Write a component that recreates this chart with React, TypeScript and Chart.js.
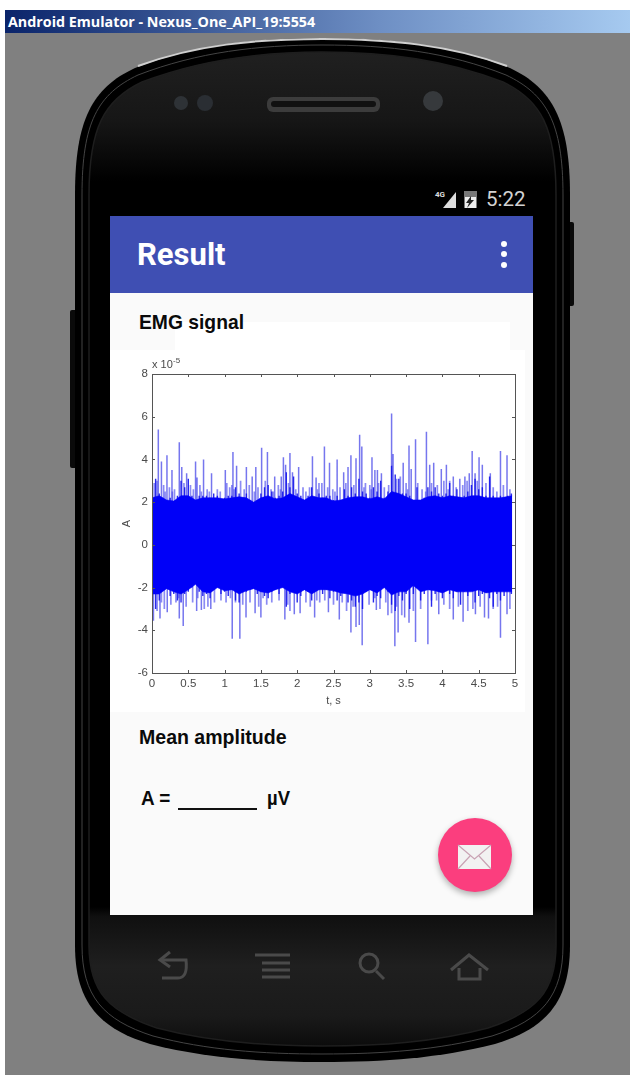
import React, { useEffect, useRef } from "react";
import { Chart, registerables } from "chart.js";

Chart.register(...registerables);

const xTicks = [0, 0.5, 1, 1.5, 2, 2.5, 3, 3.5, 4, 4.5, 5];
const yTicks = [-6, -4, -2, 0, 2, 4, 6, 8];

const bodyTimes = [0,.1,.2,.3,.4,.5,.6,.7,.8,.9,1,1.1,1.2,1.3,1.4,1.5,1.6,1.7,1.8,1.9,2,2.1,2.2,2.3,2.4,2.5,2.6,2.7,2.8,2.9,3,3.1,3.2,3.3,3.4,3.5,3.6,3.7,3.8,3.9,4,4.1,4.2,4.3,4.4,4.5,4.6,4.7,4.8,4.96];
const bodyUpper = [2.2,2.3,2.1,2.05,2.3,2.3,2.1,2.2,2.2,2.2,2.15,2.2,2.25,2.2,2,2.2,2.3,2.15,2.2,2.4,2.25,2.1,2.3,2.2,2.2,2.05,2.1,2.2,2.25,2.25,2.15,2.25,2.15,2.5,2.4,2.25,2.1,2.1,2.25,2.3,2.2,2.3,2.25,2.2,2.3,2.3,2.2,2.2,2.2,2.3];
const bodyLower = [-2.3,-2.3,-2.05,-2.2,-2.3,-2.1,-1.85,-2.2,-2.25,-2,-2.15,-2.1,-2.3,-2.15,-2.05,-2.2,-2.25,-2.1,-2,-2.2,-2.3,-2.1,-2.3,-2.1,-2.1,-2.15,-2.25,-2.3,-2.4,-2.3,-2.1,-2.25,-2,-2.35,-2.2,-2.2,-1.9,-2.2,-2.1,-2.15,-2.25,-2.1,-2.2,-2.2,-2.2,-2.1,-2.25,-2.2,-2.2,-2.2];

const denseTimes = [0,.05,.1,.15,.2,.25,.3,.35,.4,.45,.5,.55,.6,.65,.7,.75,.8,.85,.9,.95,1,1.05,1.1,1.15,1.2,1.25,1.3,1.35,1.4,1.45,1.5,1.55,1.6,1.65,1.7,1.75,1.8,1.85,1.9,1.95,2,2.05,2.1,2.15,2.2,2.25,2.3,2.35,2.4,2.45,2.5,2.55,2.6,2.65,2.7,2.75,2.8,2.85,2.9,2.95,3,3.05,3.1,3.15,3.2,3.25,3.3,3.35,3.4,3.45,3.5,3.55,3.6,3.65,3.7,3.75,3.8,3.85,3.9,3.95,4,4.05,4.1,4.15,4.2,4.25,4.3,4.35,4.4,4.45,4.5,4.55,4.6,4.65,4.7,4.75,4.8,4.85,4.9,4.95];
const denseUpper = [2.2,3.1,2.4,2.2,2.1,2.2,2,2.3,3,2.7,3.1,2.3,2.1,2.3,2.3,2.3,2.2,2.4,2.3,2.1,2.2,2.3,2.3,2.7,2.4,2.2,2.4,2.1,2,2.1,2.4,2.7,2.8,2.5,2.2,2.3,2.5,3.4,2.7,3.2,2.4,2.3,2.1,2.3,2.7,2.2,2.4,2.2,2.3,2.3,2.1,2.3,2.1,2.6,2.3,2.7,2.4,3.1,2.5,2.4,2.2,2.7,2.5,3,2.2,2.5,3.7,3.3,3.1,2.4,2.4,2.3,2.1,2.7,2.1,2.2,2.7,2.5,2.7,2.4,2.3,2.4,2.9,2.3,2.6,2.2,2.3,2.5,2.8,3.1,2.6,2.7,2.3,3.2,2.3,2,2.3,2.2,2.3,2.4];
const denseLower = [-2.4,-3,-2.6,-2.1,-2,-2.4,-2.3,-2.6,-2.7,-2.3,-2.2,-2,-1.8,-2.2,-2.4,-2.3,-2.5,-2.1,-2,-2.3,-2.2,-2.4,-2.1,-2.6,-2.7,-2.1,-2.2,-2.1,-2,-2.3,-2.2,-2.4,-2.5,-2.2,-2.1,-2.3,-2,-2.9,-2.3,-2,-2.7,-2.4,-2.1,-2.2,-2.6,-2.1,-2.1,-2.3,-2.1,-2.5,-2.2,-2.6,-2.4,-2.2,-2.7,-2.6,-2.9,-2.7,-3,-2.2,-2.1,-2.7,-2.4,-2.5,-2,-2.2,-2.8,-3.1,-2.4,-2.6,-2.3,-3,-2.3,-1.7,-2.6,-2.3,-2.1,-2.9,-2.3,-2.2,-2.5,-2.1,-2.3,-2.5,-2.2,-2.8,-2.2,-2.4,-2.1,-2.7,-2.4,-2.3,-2.1,-2.5,-2.9,-2.3,-2.6,-2.4,-2.1,-2.3];

const peakUpTimes = [.087,.13,.206,.275,.376,.41,.477,.6,.62,.71,.82,1.01,1.115,1.165,1.3,1.38,1.43,1.51,1.59,1.69,1.78,1.81,1.84,1.9,1.935,2.02,2.21,2.26,2.375,2.445,2.55,2.64,2.7,2.74,2.81,2.86,2.89,3.03,3.07,3.105,3.16,3.3,3.32,3.46,3.54,3.57,3.63,3.78,3.825,3.88,3.985,4.055,4.15,4.24,4.31,4.37,4.41,4.45,4.505,4.55,4.66,4.8,4.89];
const peakUpValues = [5.4,3.9,4.2,3.5,4.8,3.65,3.35,3.9,3.15,4,3.35,3.5,4.35,3.7,3.65,3.2,3.65,4.55,4.35,3.2,3.2,4.1,3.75,4.3,3.4,3.65,4.15,3.15,4.6,3.85,4,3.4,3.65,4.2,4.05,5.15,4.6,4.1,3.5,3.5,3.35,6.15,4.25,3.85,4.65,3.55,4.95,5.3,3.75,3.85,3.55,3.75,3.2,3.1,3.2,3.35,4.4,3.35,4.1,3.75,3.35,4.4,4.2];
const peakDownTimes = [.02,.11,.21,.376,.43,.615,.68,.81,1.105,1.21,1.295,1.42,1.5,1.83,1.96,2.04,2.24,2.43,2.58,2.74,2.81,2.855,2.895,3.09,3.25,3.345,3.39,3.48,3.54,3.63,3.8,3.95,4.15,4.285,4.455,4.58,4.635,4.8,4.89];
const peakDownValues = [-3.55,-3.45,-3.15,-3.45,-3.8,-3.1,-3.05,-3,-4.4,-4.4,-3.4,-3.2,-3.4,-3.5,-3.25,-3.2,-3.4,-3.15,-3.5,-4.1,-3.85,-3.75,-4.7,-3.05,-3.3,-4.75,-4.1,-3.4,-3.65,-4.55,-4.65,-3.25,-3.5,-3.6,-3.25,-3.4,-3.45,-4.35,-3.25];

const fuzzUpTimes = [.03,.07,.16,.18,.24,.28,.31,.44,.53,.57,.66,.68,.76,.79,.9,.94,1.03,1.07,1.1,1.13,1.22,1.27,1.34,1.41,1.46,1.56,1.64,1.67,1.74,1.77,1.88,1.98,2.08,2.12,2.17,2.28,2.3,2.34,2.42,2.49,2.52,2.59,2.67,2.78,2.92,2.94,3,3.02,3.12,3.2,3.26,3.37,3.42,3.5,3.52,3.66,3.72,3.77,3.85,3.93,4.02,4.08,4.1,4.19,4.28,4.34,4.48,4.6,4.7,4.75,4.84,4.93];
const fuzzUpValues = [2.9,3,2.8,2.5,2.7,2.5,2.6,2.9,2.8,2.6,2.8,2.5,2.6,2.5,2.6,2.5,2.9,2.7,2.8,2.6,3,2.6,2.8,2.5,2.7,3,2.6,2.5,2.8,2.6,2.9,2.6,2.7,2.5,2.7,2.6,2.9,2.9,2.7,2.6,2.5,2.7,2.9,2.8,2.7,2.9,2.8,2.6,2.9,2.7,2.8,3.1,3.2,2.9,2.6,2.9,2.6,2.5,2.9,2.8,3,2.6,3,2.7,2.8,3,3,2.9,2.7,2.5,2.8,2.6];
const fuzzDownTimes = [.07,.13,.17,.26,.33,.37,.47,.56,.63,.72,.77,.86,.95,1.02,1.08,1.15,1.25,1.35,1.47,1.53,1.58,1.65,1.75,1.87,1.9,2.12,2.18,2.27,2.31,2.38,2.5,2.62,2.68,2.77,2.99,3.07,3.14,3.22,3.3,3.37,3.44,3.6,3.7,3.85,3.92,4.02,4.1,4.22,4.35,4.42,4.52,4.7,4.76,4.93];
const fuzzDownValues = [-3.1,-2.7,-3,-2.8,-2.7,-2.5,-2.9,-2.7,-2.5,-3,-2.9,-2.7,-2.6,-2.7,-2.5,-2.7,-2.8,-2.7,-2.9,-2.5,-2.8,-2.7,-2.6,-2.8,-3.1,-2.7,-2.9,-2.6,-2.7,-2.6,-2.8,-2.7,-3.1,-2.9,-2.8,-2.5,-3,-2.7,-3.2,-2.9,-3.3,-3.1,-3,-2.6,-2.6,-2.8,-3,-2.9,-3.1,-3,-2.9,-3,-2.9,-3];

const coreColor = "#0000f8";
const denseColor = "rgba(18,18,235,0.9)";
const peakColor = "rgba(72,72,232,0.75)";
const fuzzColor = "rgba(100,100,240,0.75)";
const inkColor = "#4a4a4a";

const spikes = (times: number[], values: number[]) =>
  times.flatMap((t, i) => [{ x: t, y: 0 }, { x: t, y: values[i] }, { x: t, y: 0 }]);

const matlabFrame = {
  id: "matlabFrame",
  afterDraw(chart: any) {
    const { ctx, chartArea: a, scales } = chart;
    ctx.save();
    ctx.strokeStyle = "#555";
    ctx.lineWidth = 1;
    ctx.strokeRect(Math.round(a.left) + 0.5, Math.round(a.top) + 0.5, a.width, a.height);
    ctx.beginPath();
    scales.x.ticks.forEach((t: any) => {
      const p = Math.round(scales.x.getPixelForValue(t.value)) + 0.5;
      ctx.moveTo(p, a.top); ctx.lineTo(p, a.top + 3);
      ctx.moveTo(p, a.bottom); ctx.lineTo(p, a.bottom - 3);
    });
    scales.y.ticks.forEach((t: any) => {
      const p = Math.round(scales.y.getPixelForValue(t.value)) + 0.5;
      ctx.moveTo(a.left, p); ctx.lineTo(a.left + 3, p);
      ctx.moveTo(a.right, p); ctx.lineTo(a.right - 3, p);
    });
    ctx.stroke();
    ctx.fillStyle = inkColor;
    ctx.textBaseline = "alphabetic";
    ctx.font = "11px 'Liberation Sans'";
    ctx.fillText("x 10", a.left, a.top - 6);
    ctx.font = "8px 'Liberation Sans'";
    ctx.fillText("-5", a.left + 21, a.top - 11);
    ctx.restore();
  },
};

function EmgChart() {
  const ref = useRef<HTMLCanvasElement | null>(null);
  useEffect(() => {
    const chart = new Chart(ref.current!, {
      type: "line",
      data: {
        datasets: [
          {
            label: "body upper",
            data: bodyTimes.map((t, i) => ({ x: t, y: bodyUpper[i] })),
            borderColor: coreColor, borderWidth: 0.6, backgroundColor: coreColor, fill: "+1",
          },
          {
            label: "body lower",
            data: bodyTimes.map((t, i) => ({ x: t, y: bodyLower[i] })),
            borderColor: coreColor, borderWidth: 0.6,
          },
          { label: "dense up", data: spikes(denseTimes, denseUpper), borderColor: denseColor, borderWidth: 1.4 },
          { label: "dense down", data: spikes(denseTimes, denseLower), borderColor: denseColor, borderWidth: 1.4 },
          { label: "peaks up", data: spikes(peakUpTimes, peakUpValues), borderColor: peakColor, borderWidth: 1.5 },
          { label: "peaks down", data: spikes(peakDownTimes, peakDownValues), borderColor: peakColor, borderWidth: 1.5 },
          { label: "fuzz up", data: spikes(fuzzUpTimes, fuzzUpValues), borderColor: fuzzColor, borderWidth: 1.7 },
          { label: "fuzz down", data: spikes(fuzzDownTimes, fuzzDownValues), borderColor: fuzzColor, borderWidth: 1.7 },
        ],
      } as any,
      options: {
        animation: false,
        responsive: false,
        devicePixelRatio: 1,
        parsing: false as any,
        elements: { point: { radius: 0 }, line: { tension: 0 } },
        layout: { padding: { top: 24, right: 10, left: 0, bottom: 0 } },
        plugins: { legend: { display: false }, tooltip: { enabled: false } },
        scales: {
          x: {
            type: "linear", min: 0, max: 5,
            afterBuildTicks: (s: any) => { s.ticks = xTicks.map((value) => ({ value })); },
            afterFit: (s: any) => { s.height = 39; },
            grid: { display: false }, border: { display: false },
            ticks: { color: inkColor, padding: -4, maxRotation: 0, autoSkip: false, font: { family: "Liberation Sans", size: 11.5 }, callback: (v: any) => String(v) },
            title: { display: true, text: "t, s", color: inkColor, font: { family: "Liberation Sans", size: 11 }, padding: { top: 0, bottom: 4 } },
          },
          y: {
            type: "linear", min: -6, max: 8,
            afterBuildTicks: (s: any) => { s.ticks = yTicks.map((value) => ({ value })); },
            afterFit: (s: any) => { s.width = 42; },
            grid: { display: false }, border: { display: false },
            ticks: { color: inkColor, padding: -4, autoSkip: false, font: { family: "Liberation Sans", size: 11.5 }, callback: (v: any) => String(v) },
            title: { display: true, text: "A", color: inkColor, font: { family: "Liberation Sans", size: 11 }, padding: { top: 10, bottom: 0 } },
          },
        },
      },
      plugins: [matlabFrame],
    } as any);
    return () => chart.destroy();
  }, []);
  return (
    <canvas
      ref={ref}
      width={415}
      height={362}
      style={{ position: "absolute", left: 110, top: 350, width: 415, height: 362, filter: "blur(0.45px)" }}
    />
  );
}

const abs = (left: number, top: number, width: number, height: number, extra: React.CSSProperties = {}): React.CSSProperties => ({
  position: "absolute", left, top, width, height, ...extra,
});

const outerPath = "M75 195 C75 120 92 88 135 68 C195 45 255 38 322 38 C390 38 450 45 510 68 C552 88 570 120 570 195 L570 945 C570 1000 548 1028 495 1044 C440 1058 385 1062 322 1062 C260 1062 205 1058 150 1044 C97 1028 75 1000 75 945 Z";
const innerPath = "M89 195 C89 128 104 100 142 82 C200 60 258 52 322 52 C388 52 446 60 503 82 C541 100 556 128 556 195 L556 945 C556 992 536 1012 488 1028 C435 1042 382 1046 322 1046 C263 1046 210 1042 157 1028 C109 1012 89 992 89 945 Z";

function PhoneShell() {
  return (
    <svg width={630} height={1075} style={{ position: "absolute", left: 0, top: 0 }}>
      <defs>
        <linearGradient id="face" x1="0" y1="0" x2="0" y2="1">
          <stop offset="0" stopColor="#202020" />
          <stop offset="0.07" stopColor="#161616" />
          <stop offset="0.13" stopColor="#000" />
          <stop offset="0.86" stopColor="#000" />
          <stop offset="0.87" stopColor="#101010" />
          <stop offset="0.92" stopColor="#1f1f1f" />
          <stop offset="0.97" stopColor="#1a1a1a" />
          <stop offset="1" stopColor="#0c0c0c" />
        </linearGradient>
      </defs>
      <rect x={70} y={310} width={8} height={158} rx={2} fill="#0a0a0a" />
      <rect x={567} y={222} width={7} height={84} rx={2} fill="#0a0a0a" />
      <path d={outerPath} fill="#000" />
      <path d="M138 66 C195 45 255 39 322 39 C390 39 450 45 507 66" fill="none" stroke="#cfcfcf" strokeWidth={2} />
      <path d={innerPath} fill="url(#face)" stroke="#1e1e1e" strokeWidth={1.5} />
      <path d="M82 195 C82 122 98 94 138 75 C198 52 258 45 322 45 C389 45 448 52 506 75 C546 94 563 122 563 195 L563 945 C563 996 542 1020 492 1036 C438 1050 384 1054 322 1054 C261 1054 207 1050 153 1036 C103 1020 82 996 82 945 Z" fill="none" stroke="#444" strokeWidth={1} />
      {/* earpiece and sensors */}
      <rect x={267} y={97} width={113} height={15} rx={6} fill="#3c3c3c" />
      <rect x={271} y={101} width={105} height={6} rx={3} fill="#111" />
      <circle cx={181} cy={103} r={7} fill="#2e3236" />
      <circle cx={205} cy={103} r={8} fill="#2a2e33" />
      <circle cx={433} cy={101} r={10} fill="#36393c" />
      {/* nav buttons */}
      <g fill="none" stroke="#4a4a4a" strokeWidth={3}>
        <path d="M162 960 L186 960 Q188 978 178 978 L162 978" />
        <path d="M170 952 L160 960 L170 967" />
        <path d="M255 955 L290 955 M262 963 L290 963 M262 970 L290 970 M262 977 L290 977" />
        <circle cx={369} cy={963} r={9} />
        <path d="M376 971 L384 979" />
        <path d="M451 970 L469 955 L488 970 M459 968 L459 979 L480 979 L480 968" />
      </g>
      {/* status icons */}
      <path d="M456 208 L456 192 L443 208 Z" fill="#ddd" />
      <rect x={464} y={191} width={13} height={17} fill="#777" />
      <rect x={465} y={197} width={11} height={11} fill="#eee" />
      <path d="M471 196 L466 203 L469 203 L467 208 L474 200 L471 200 Z" fill="#222" />
      <text x={435} y={197} fill="#ddd" fontSize={8} fontWeight={700} fontFamily="Roboto">4G</text>
      <text x={486} y={206} fill="#d2d2d2" fontSize={20.5} fontFamily="Roboto">5:22</text>
    </svg>
  );
}

export default function App() {
  useEffect(() => {
    document.body.style.margin = "0";
    document.body.style.overflow = "hidden";
  }, []);
  const sans = "'Liberation Sans', Arial, sans-serif";
  return (
    <div style={{ position: "absolute", left: 0, top: 0, width: 630, height: 1075, background: "#fff", overflow: "hidden", fontFamily: sans }}>
      <div style={abs(5, 10, 625, 1065, { background: "#808080" })} />
      <div style={abs(5, 10, 625, 23, { background: "linear-gradient(90deg,#0a246a 0%,#6e8fc4 60%,#a6caf0 100%)" })} />
      <div style={abs(8, 13, 400, 18, { color: "#fff", font: `700 14.3px 'Open Sans'`, lineHeight: "18px", whiteSpace: "nowrap" })}>
        Android Emulator - Nexus_One_API_19:5554
      </div>
      <PhoneShell />
      <div style={abs(110, 216, 423, 77, { background: "#3f4fb3" })} />
      <div style={abs(137, 235, 150, 40, { color: "#fff", font: "700 31px Roboto", lineHeight: "40px" })}>Result</div>
      {[244, 254, 265].map((y) => (
        <div key={y} style={abs(501, y - 3, 6, 6, { background: "#fff", borderRadius: 3 })} />
      ))}
      <div style={abs(110, 293, 423, 622, { background: "#fafafa" })} />
      <div style={abs(175, 322, 335, 30, { background: "#fff" })} />
      <div style={abs(110, 350, 415, 362, { background: "#fff" })} />
      <div style={abs(139, 311, 200, 24, { color: "#0a0a0a", font: `700 19.3px ${sans}`, lineHeight: "24px" })}>EMG signal</div>
      <EmgChart />
      <div style={abs(139, 725, 200, 24, { color: "#0a0a0a", font: `700 21px ${sans}`, lineHeight: "24px", transform: "scaleX(0.93)", transformOrigin: "left", whiteSpace: "nowrap" })}>Mean amplitude</div>
      <div style={abs(141, 786, 40, 24, { color: "#0a0a0a", font: `700 21px ${sans}`, lineHeight: "24px", transform: "scaleX(0.9)", transformOrigin: "left", whiteSpace: "nowrap" })}>A =</div>
      <div style={abs(178, 808, 79, 1.5, { background: "#111" })} />
      <div style={abs(267, 786, 40, 24, { color: "#0a0a0a", font: `700 21px ${sans}`, lineHeight: "24px", transform: "scaleX(0.88)", transformOrigin: "left" })}>µV</div>
      <div style={abs(438, 818, 74, 74, { background: "#fb3e7e", borderRadius: "50%", boxShadow: "0 3px 6px rgba(0,0,0,0.3)" })} />
      <svg width={36} height={26} style={{ position: "absolute", left: 457, top: 844 }}>
        <rect x={1} y={1} width={33} height={24} fill="#f2f2f2" />
        <path d="M1 1 L17.5 15 L34 1 M1 25 L13 12 M34 25 L22 12" fill="none" stroke="#c9a3b4" strokeWidth={1.2} />
      </svg>
    </div>
  );
}
